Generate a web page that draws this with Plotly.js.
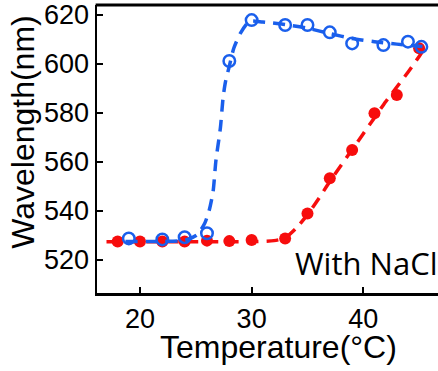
<!DOCTYPE html>
<html>
<head>
<meta charset="utf-8">
<script src="https://cdn.plot.ly/plotly-3.0.1.min.js"></script>
<style>html,body{margin:0;padding:0;background:#fff;overflow:hidden}#chart{width:438px;height:371px}</style>
</head>
<body>
<div id="chart"></div>
<script>
var blueTemp = [19, 22, 24, 26, 28, 30, 33, 35, 37, 39, 41.8, 44, 45.2];
var blueWave = [528.8, 528.4, 529.3, 530.9, 601.1, 617.8, 615.8, 615.8, 612.8, 608.3, 607.6, 609.0, 606.9];
var redTemp = [18, 20, 22, 24, 26, 28, 30, 33, 35, 37, 39, 41, 43, 45];
var redWave = [527.5, 527.5, 527.5, 527.5, 527.9, 527.7, 528.2, 528.8, 539.0, 553.3, 564.8, 579.8, 587.3, 606.3];
// Fitted curves
var blueFitTemp = [18.7, 22, 24, 25.1, 25.8, 26.2, 26.55, 26.8, 27.2, 27.45, 27.65, 28, 28.4, 29, 29.8, 31, 33, 35, 37, 39, 41, 43, 45.3];
var blueFitWave = [527.5, 527.6, 528, 530.2, 535, 540.3, 548, 560.5, 573.8, 586.5, 592.5, 599, 606.3, 612.5, 617.3, 617, 616, 614.5, 612.3, 610.3, 609, 608, 607];
var redFitTemp = [17, 20, 25, 30, 32, 33, 34, 35, 36, 37, 38, 39, 40, 41, 42, 43, 44, 45, 45.5];
var redFitWave = [527.4, 527.4, 527.4, 527.5, 527.9, 529, 533, 538.5, 545, 552, 558.5, 565, 571.5, 578, 584.5, 590.5, 596.5, 603, 606.5];
var xTicks = [20, 30, 40];
var yTicks = [520, 540, 560, 580, 600, 620];
var xTitle = 'Temperature(°C)';
var yTitle = 'Wavelength(nm)';
var note = 'With NaCl';

var BLUE = '#1a5fec';
var RED = '#f70d0d';
var dashPat = '12px,8px';

var traces = [
  {x: redFitTemp, y: redFitWave, mode: 'lines', line: {color: RED, width: 3.5, dash: dashPat, shape: 'spline', smoothing: 0.6}, hoverinfo: 'skip'},
  {x: redTemp, y: redWave, mode: 'markers', marker: {symbol: 'circle', size: 12, color: RED}},
  {x: blueFitTemp, y: blueFitWave, mode: 'lines', line: {color: BLUE, width: 3.5, dash: dashPat, shape: 'spline', smoothing: 0.6}, hoverinfo: 'skip'},
  {x: blueTemp, y: blueWave, mode: 'markers', marker: {symbol: 'circle-open', size: 11.5, color: BLUE, line: {color: BLUE, width: 2.5}}}
];

var tickFont = {family: 'Liberation Sans, Arial, sans-serif', size: 27, color: '#000'};
var titleFont = {family: 'Liberation Sans, Arial, sans-serif', size: 32, color: '#000'};

var layout = {
  width: 438, height: 371,
  margin: {l: 97, r: 0, t: 5, b: 78, pad: 0},
  paper_bgcolor: '#fff', plot_bgcolor: '#fff',
  showlegend: false,
  xaxis: {
    range: [16.15, 46.69], tickvals: xTicks, ticktext: xTicks.map(String),
    ticks: 'inside', ticklen: 6, tickwidth: 2, tickcolor: '#000',
    showline: true, linewidth: 2.5, linecolor: '#000',
    showgrid: false, zeroline: false, tickfont: tickFont
  },
  yaxis: {
    range: [506.55, 623.95], tickvals: yTicks, ticktext: yTicks.map(String),
    ticks: 'inside', ticklen: 6, tickwidth: 2, tickcolor: '#000',
    showline: true, linewidth: 2.5, linecolor: '#000',
    showgrid: false, zeroline: false, tickfont: tickFont
  },
  shapes: [
    {type: 'line', xref: 'paper', yref: 'paper', x0: -0.004, x1: 1, y0: 1, y1: 1, line: {color: '#000', width: 3}}
  ],
  annotations: [
    {text: note, xref: 'x', yref: 'y', x: 33.7, y: 518.6, xanchor: 'left', yanchor: 'middle', showarrow: false,
     font: {family: 'Open Sans, sans-serif', size: 31, color: '#000'}},
    {text: xTitle, xref: 'paper', yref: 'paper', x: 0.531, y: -0.1885, xanchor: 'center', yanchor: 'middle', showarrow: false, borderpad: 0, font: titleFont},
    {text: yTitle, xref: 'paper', yref: 'paper', x: -0.216, y: 0.5608, xanchor: 'center', yanchor: 'middle', textangle: -90, showarrow: false, borderpad: 0, font: titleFont}
  ]
};

Plotly.newPlot('chart', traces, layout, {displayModeBar: false, staticPlot: true});
</script>
</body>
</html>
